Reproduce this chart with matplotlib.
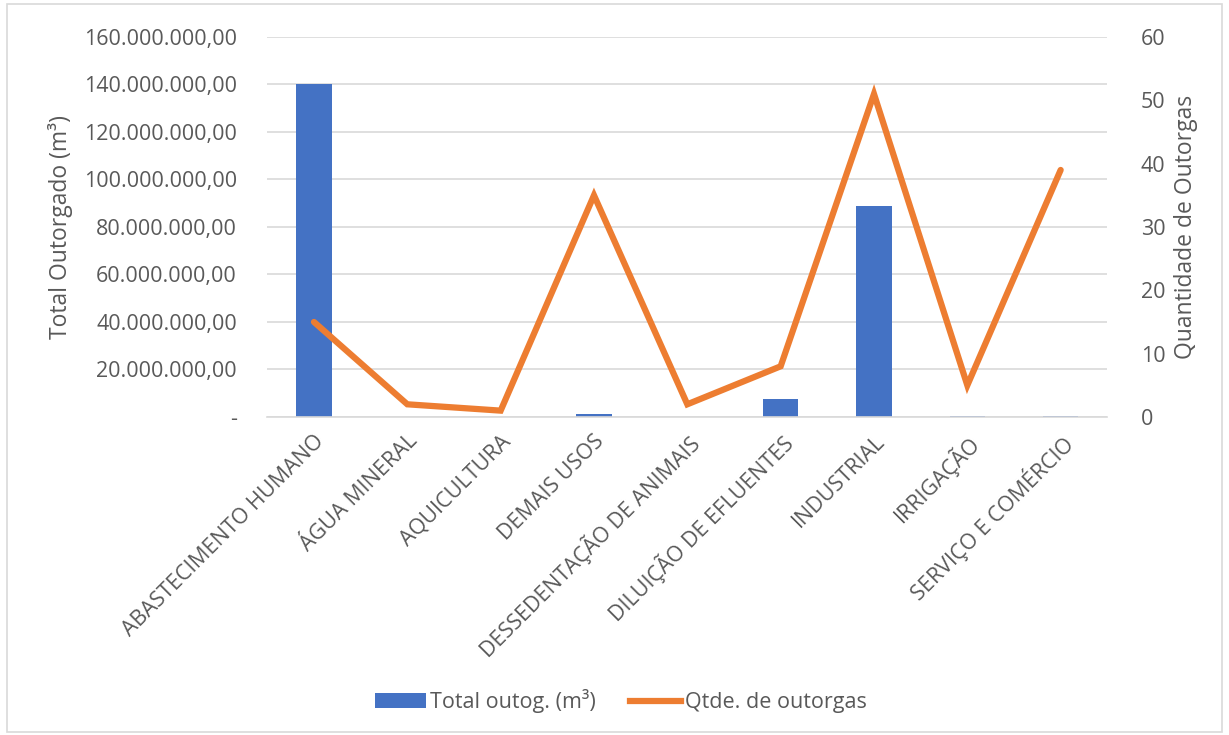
import matplotlib
matplotlib.use("Agg")
import matplotlib.pyplot as plt
from matplotlib.ticker import FuncFormatter
from matplotlib.lines import Line2D
from matplotlib.patches import Patch

categorias = ["ABASTECIMENTO HUMANO", "ÁGUA MINERAL", "AQUICULTURA", "DEMAIS USOS",
              "DESSEDENTAÇÃO DE ANIMAIS", "DILUIÇÃO DE EFLUENTES", "INDUSTRIAL",
              "IRRIGAÇÃO", "SERVIÇO E COMÉRCIO"]
total_outorgado = [140_300_000, 0, 0, 1_300_000, 0, 7_600_000, 88_900_000, 200_000, 500_000]
qtde_outorgas = [15, 2, 1, 35, 2, 8, 51, 5, 39]

plt.rcParams['font.family'] = ['Open Sans', 'DejaVu Sans']
cinza = "#595959"
azul = "#4472C4"
laranja = "#ED7D31"

fig = plt.figure(figsize=(12.29, 7.35), dpi=100)
ax = fig.add_axes([0.2175, 0.4327, 0.6835, 0.517])
ax2 = ax.twinx()

x = list(range(len(categorias)))
ax.bar(x, total_outorgado, width=0.38, color=azul, zorder=2)
ax2.plot(x, qtde_outorgas, color=laranja, lw=4.5, solid_capstyle='round',
         solid_joinstyle='miter', zorder=3)

ax.set_xlim(-0.5, len(categorias) - 0.5)
ax.set_ylim(0, 160_000_000)
ax.set_yticks(range(0, 160_000_001, 20_000_000))
ax2.set_ylim(0, 60)
ax2.set_yticks(range(0, 61, 10))


def fmt_br(v, pos):
    if v == 0:
        return "-"
    return f"{v:,.2f}".replace(",", "X").replace(".", ",").replace("X", ".")


ax.yaxis.set_major_formatter(FuncFormatter(fmt_br))
ax.grid(axis='y', color="#D9D9D9", lw=1.2, zorder=0)
ax.set_axisbelow(True)

for a in (ax, ax2):
    for s in a.spines.values():
        s.set_visible(False)
    a.tick_params(length=0, labelsize=15.5, labelcolor=cinza)
ax.spines['bottom'].set_visible(True)
ax.spines['bottom'].set_color("#D9D9D9")
ax.spines['bottom'].set_linewidth(1.2)

ax.tick_params(axis='y', pad=22)
ax2.tick_params(axis='y', pad=24)
ax.set_xticks(x)
ax.set_xticklabels(categorias, rotation=45, ha='right', rotation_mode='anchor')
ax.tick_params(axis='x', pad=10)

ax.set_ylabel("Total Outorgado (m³)", fontsize=16.5, color=cinza, labelpad=8)
ax2.set_ylabel("Quantidade de Outorgas", fontsize=16.5, color=cinza, labelpad=6)

handles = [Patch(facecolor=azul, label="Total outog. (m³)"),
           Line2D([0], [0], color=laranja, lw=4.5, label="Qtde. de outorgas")]
fig.legend(handles=handles, loc='center', bbox_to_anchor=(0.505, 0.046), ncol=2,
           frameon=False, fontsize=15.5, labelcolor=cinza, handlelength=2.4,
           handletextpad=0.15, columnspacing=1.6)

fig.patches.append(plt.Rectangle((0.006, 0.004), 0.988, 0.99, transform=fig.transFigure,
                                 fill=False, edgecolor="#D9D9D9", lw=1.2))

fig.savefig("out.png", dpi=100)
